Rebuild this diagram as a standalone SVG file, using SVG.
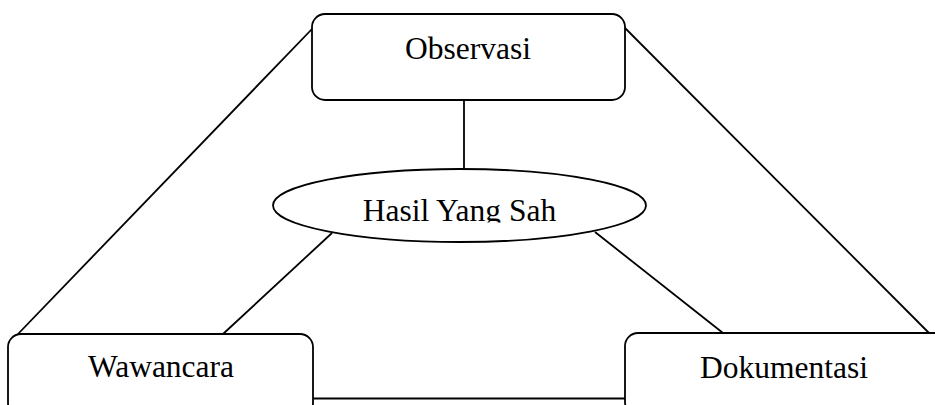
<svg xmlns="http://www.w3.org/2000/svg" width="935" height="405" viewBox="0 0 935 405">
  <style>
    .box { fill: #ffffff; stroke: #000000; stroke-width: 1.8; }
    .link { stroke: #000000; stroke-width: 1.8; fill: none; }
    .label { font-family: "Liberation Serif", "Times New Roman", serif; font-size: 31.5px; fill: #000000; text-anchor: middle; }
  </style>
  <defs>
    <clipPath id="centerTextClip">
      <rect x="270" y="170" width="380" height="52.5"/>
    </clipPath>
  </defs>
  <rect width="935" height="405" fill="#ffffff"/>

  <g id="connectors">
    <line class="link" x1="312" y1="29" x2="18" y2="334"/>
    <line class="link" x1="625" y1="28" x2="929" y2="333"/>
    <line class="link" x1="464" y1="100" x2="464" y2="169"/>
    <line class="link" x1="332" y1="233" x2="223" y2="334"/>
    <line class="link" x1="595" y1="232" x2="723" y2="333"/>
    <line class="link" x1="313" y1="398.5" x2="625" y2="398.5"/>
  </g>

  <g id="observasi">
    <rect class="box" x="312" y="14" width="313" height="86" rx="13"/>
    <text class="label" x="468" y="59">Observasi</text>
  </g>

  <g id="hasil">
    <ellipse class="box" cx="459.5" cy="205.5" rx="186.5" ry="36.5"/>
    <text class="label" x="459.5" y="221" clip-path="url(#centerTextClip)">Hasil Yang Sah</text>
  </g>

  <g id="wawancara">
    <rect class="box" x="8" y="334" width="305" height="82" rx="13"/>
    <text class="label" x="161" y="377">Wawancara</text>
  </g>

  <g id="dokumentasi">
    <rect class="box" x="625" y="333" width="330" height="82" rx="13"/>
    <text class="label" x="784" y="378">Dokumentasi</text>
  </g>
</svg>
